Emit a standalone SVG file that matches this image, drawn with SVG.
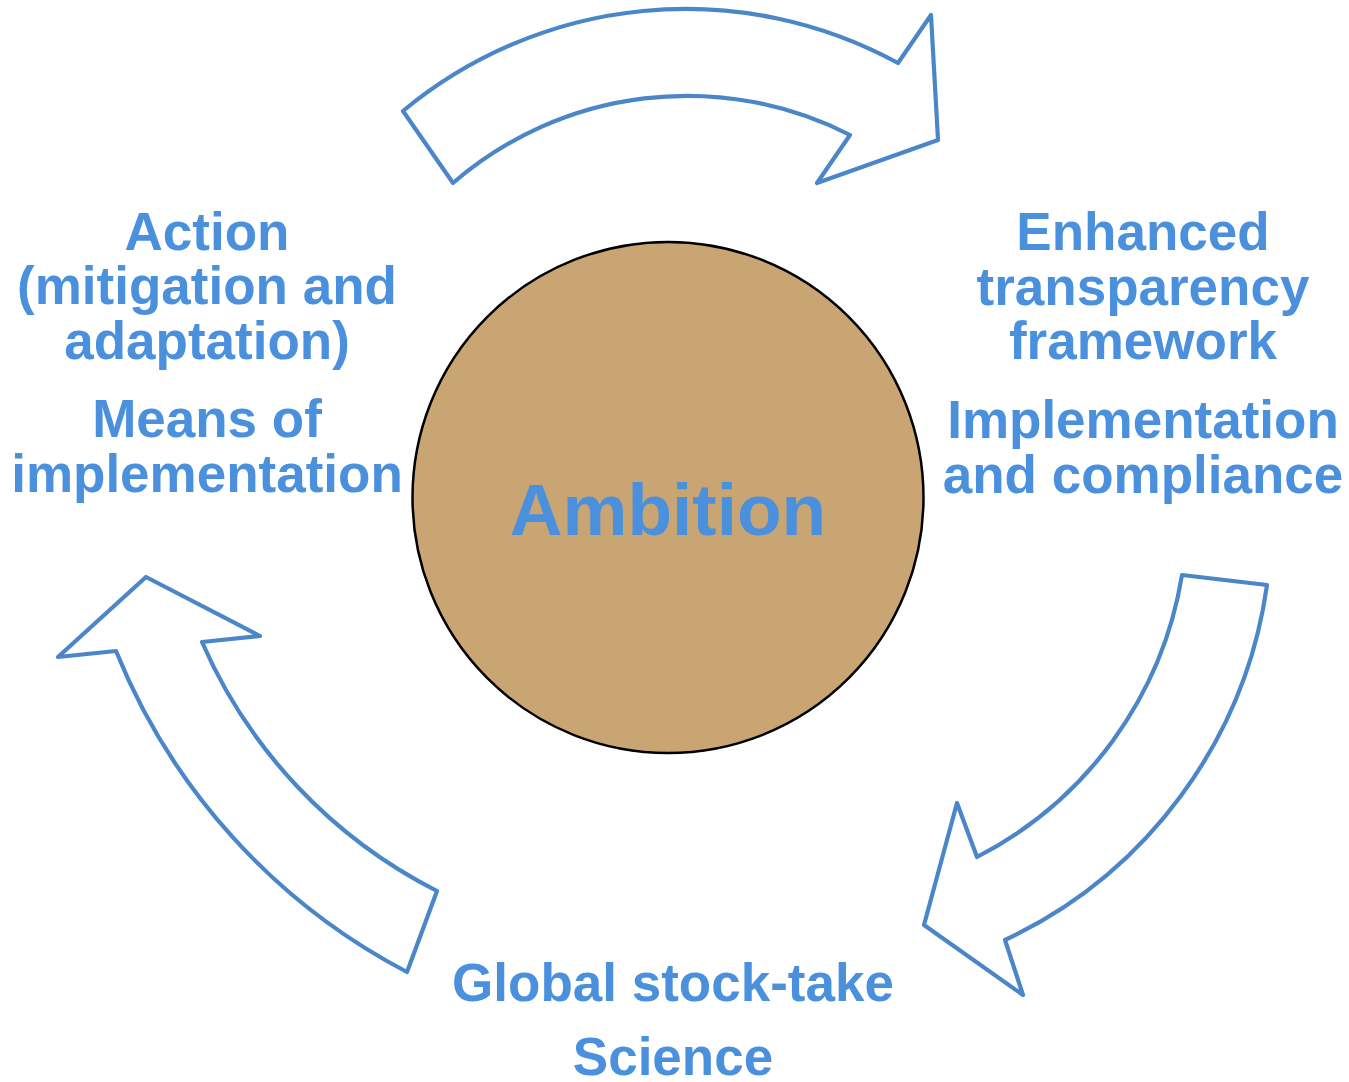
<svg xmlns="http://www.w3.org/2000/svg" width="1349" height="1082" viewBox="0 0 1349 1082">
  <style>
    .arrow { fill: #ffffff; stroke: #4a86c8; stroke-width: 4.2; stroke-linejoin: round; }
    .label { font-family: "Liberation Sans", Arial, sans-serif; font-weight: bold; font-size: 53px; fill: #4a90dc; text-anchor: middle; }
    .core { font-family: "Liberation Sans", Arial, sans-serif; font-weight: bold; font-size: 73px; fill: #4a90dc; text-anchor: middle; }
  </style>
  <rect width="1349" height="1082" fill="#ffffff"/>

  <!-- cycle arrows -->
  <g id="connectors">
    <path id="arrow-top" class="arrow" d="M403,111 A443,443 0 0 1 898,63 L931,15 L938,140 L817,183 L850,135 A358,358 0 0 0 453,183 Z"/>
    <path id="arrow-right" class="arrow" d="M1182,575 L1267,585 A463,463 0 0 1 1005,940 L1023,995 L924,925 L957,803 L977,857 A387,387 0 0 0 1182,575 Z"/>
    <path id="arrow-left" class="arrow" d="M146,577 L260,636 L202,642 A505,505 0 0 0 437,891 L407,972 A627,627 0 0 1 116,651 L58,657 Z"/>
  </g>

  <!-- central hub -->
  <g id="ambition">
    <circle cx="668" cy="497.5" r="255.5" fill="#c9a574" stroke="#000000" stroke-width="2.5"/>
    <text class="core" x="668" y="535">Ambition</text>
  </g>

  <g id="action">
    <text class="label" x="207" y="250">Action</text>
    <text class="label" x="207" y="304">(mitigation and</text>
    <text class="label" x="207" y="359">adaptation)</text>
    <text class="label" x="207" y="437">Means of</text>
    <text class="label" x="207" y="492">implementation</text>
  </g>

  <g id="transparency">
    <text class="label" x="1143" y="250">Enhanced</text>
    <text class="label" x="1143" y="305">transparency</text>
    <text class="label" x="1143" y="359">framework</text>
    <text class="label" x="1143" y="438">Implementation</text>
    <text class="label" x="1143" y="493">and compliance</text>
  </g>

  <g id="stocktake">
    <text class="label" x="673" y="1001">Global stock-take</text>
    <text class="label" x="673" y="1075">Science</text>
  </g>
</svg>
